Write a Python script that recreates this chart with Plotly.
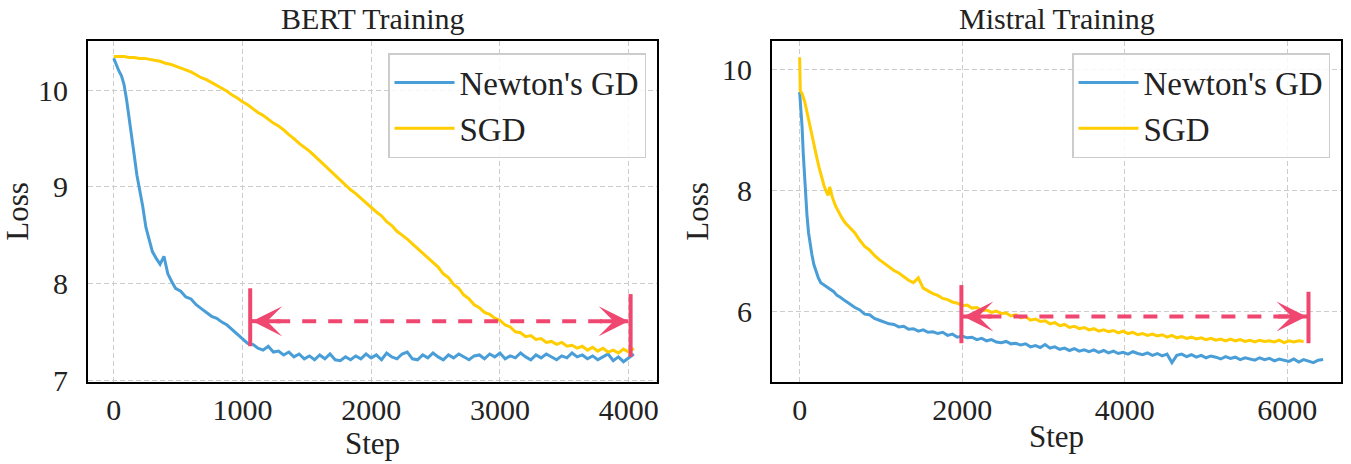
import plotly.graph_objects as go
from plotly.subplots import make_subplots

# ---------------- data ----------------
# BERT, Newton's GD: irregular early steps, then every 40 steps from 520
bert_newton_early_steps = [0, 20, 40, 60, 80, 100, 120, 140, 160, 180, 200, 225, 250, 275,
                           300, 330, 360, 390, 420, 450, 480]
bert_newton_early_loss = [10.33, 10.26, 10.20, 10.15, 10.06, 9.90, 9.72, 9.52, 9.32, 9.12,
                          8.98, 8.80, 8.58, 8.45, 8.33, 8.26, 8.20, 8.28, 8.10, 8.02, 7.95]
bert_newton_late_start, bert_newton_late_every = 520, 40
bert_newton_late_loss = [
    7.92, 7.86, 7.84, 7.78, 7.74, 7.70, 7.66, 7.64, 7.60, 7.57, 7.52, 7.48, 7.43, 7.38, 7.37,
    7.33, 7.31, 7.35, 7.29, 7.30, 7.26, 7.29, 7.24, 7.27, 7.22, 7.25, 7.21, 7.26, 7.22, 7.27,
    7.21, 7.20, 7.24, 7.21, 7.25, 7.22, 7.27, 7.23, 7.26, 7.21, 7.28, 7.24, 7.22, 7.27, 7.29,
    7.22, 7.21, 7.26, 7.23, 7.28, 7.24, 7.21, 7.26, 7.23, 7.27, 7.24, 7.21, 7.25, 7.26, 7.22,
    7.27, 7.24, 7.28, 7.22, 7.25, 7.23, 7.28, 7.24, 7.21, 7.26, 7.23, 7.27, 7.24, 7.21, 7.25,
    7.23, 7.28, 7.24, 7.26, 7.22, 7.25, 7.21, 7.24, 7.27, 7.20, 7.24, 7.19, 7.23, 7.27]

# BERT, SGD: every 40 steps from 0
bert_sgd_every = 40
bert_sgd_loss = [
    10.35, 10.35, 10.35, 10.34, 10.34, 10.33, 10.33, 10.32, 10.31, 10.30, 10.28, 10.27, 10.25,
    10.23, 10.21, 10.19, 10.16, 10.13, 10.11, 10.08, 10.05, 10.02, 9.99, 9.95, 9.92, 9.88,
    9.85, 9.81, 9.77, 9.74, 9.70, 9.66, 9.63, 9.59, 9.54, 9.50, 9.45, 9.41, 9.37, 9.32, 9.27,
    9.22, 9.17, 9.11, 9.07, 9.02, 8.97, 8.93, 8.88, 8.83, 8.79, 8.74, 8.70, 8.64, 8.60, 8.54,
    8.50, 8.46, 8.41, 8.36, 8.32, 8.26, 8.21, 8.17, 8.10, 8.06, 7.99, 7.95, 7.88, 7.84, 7.78,
    7.75, 7.70, 7.68, 7.64, 7.62, 7.57, 7.55, 7.50, 7.49, 7.45, 7.46, 7.42, 7.43, 7.39, 7.40,
    7.37, 7.39, 7.35, 7.36, 7.33, 7.35, 7.31, 7.34, 7.30, 7.33, 7.29, 7.31, 7.28, 7.32, 7.29,
    7.33]

# Mistral, Newton's GD
mistral_newton_early_steps = [0, 15, 30, 45, 60, 75, 90, 110, 130, 150, 175, 200, 230, 260,
                              300, 340, 380, 420, 460, 500]
mistral_newton_early_loss = [9.63, 9.35, 9.05, 8.60, 8.25, 7.96, 7.60, 7.30, 7.10, 6.95, 6.78,
                             6.66, 6.56, 6.48, 6.44, 6.40, 6.36, 6.33, 6.27, 6.24]
mistral_newton_late_start, mistral_newton_late_every = 560, 60
mistral_newton_late_loss = [
    6.18, 6.12, 6.07, 6.03, 5.96, 5.95, 5.89, 5.86, 5.83, 5.80, 5.79, 5.75, 5.76, 5.71, 5.72,
    5.68, 5.70, 5.66, 5.67, 5.64, 5.66, 5.61, 5.63, 5.58, 5.60, 5.57, 5.58, 5.54, 5.56, 5.52,
    5.54, 5.50, 5.49, 5.51, 5.47, 5.48, 5.45, 5.47, 5.42, 5.44, 5.41, 5.46, 5.40, 5.42, 5.38,
    5.40, 5.36, 5.39, 5.35, 5.37, 5.34, 5.37, 5.33, 5.36, 5.32, 5.35, 5.31, 5.33, 5.30, 5.34,
    5.31, 5.29, 5.32, 5.28, 5.31, 5.27, 5.30, 5.16, 5.28, 5.30, 5.26, 5.29, 5.25, 5.28, 5.24,
    5.27, 5.25, 5.22, 5.26, 5.23, 5.25, 5.21, 5.24, 5.22, 5.20, 5.24, 5.21, 5.23, 5.19, 5.22,
    5.20, 5.18, 5.22, 5.17, 5.21, 5.19, 5.16, 5.20, 5.21]

# Mistral, SGD
mistral_sgd_early_steps = [0, 8, 30, 60, 90, 120, 150, 180, 210, 240, 270, 300, 330, 350, 370,
                           400, 440, 480, 520]
mistral_sgd_early_loss = [10.20, 9.65, 9.60, 9.48, 9.30, 9.10, 8.90, 8.72, 8.55, 8.38, 8.22,
                          8.08, 7.98, 7.92, 8.06, 7.90, 7.75, 7.64, 7.55]
mistral_sgd_late_start, mistral_sgd_late_every = 560, 60
mistral_sgd_late_loss = [
    7.47, 7.38, 7.30, 7.18, 7.08, 7.02, 6.93, 6.86, 6.80, 6.74, 6.68, 6.64, 6.58, 6.52, 6.48,
    6.56, 6.39, 6.34, 6.30, 6.27, 6.22, 6.20, 6.16, 6.14, 6.10, 6.11, 6.06, 6.07, 6.02, 6.03,
    5.99, 6.01, 5.97, 5.98, 5.93, 5.95, 5.90, 5.92, 5.86, 5.88, 5.84, 5.85, 5.80, 5.82, 5.77,
    5.79, 5.74, 5.76, 5.72, 5.74, 5.70, 5.72, 5.68, 5.70, 5.67, 5.69, 5.65, 5.68, 5.64, 5.66,
    5.62, 5.64, 5.61, 5.63, 5.60, 5.62, 5.58, 5.61, 5.57, 5.59, 5.56, 5.58, 5.55, 5.57, 5.54,
    5.56, 5.53, 5.55, 5.52, 5.55, 5.52, 5.54, 5.51, 5.53, 5.50, 5.53, 5.51, 5.52, 5.50, 5.53,
    5.49, 5.52, 5.50, 5.52, 5.51]

# speed-up spans (step range, loss level of dashed arrow, vertical bar extents)
bert_span_steps = [1060, 4015]
bert_span_level = 7.61
bert_span_bars = [[7.35, 7.95], [7.24, 7.89]]
mistral_span_steps = [1990, 6260]
mistral_span_level = 5.92
mistral_span_bars = [[5.48, 6.44], [5.48, 6.33]]

titles = ["BERT Training", "Mistral Training"]
series_names = ["Newton's GD", "SGD"]
bert_xticks = [0, 1000, 2000, 3000, 4000]
bert_yticks = [7, 8, 9, 10]
mistral_xticks = [0, 2000, 4000, 6000]
mistral_yticks = [6, 8, 10]

# ---------------- styling ----------------
BLUE = "#4A9ED8"
YELLOW = "#FFCD00"
RED = "#EF476F"
FONT = "Liberation Serif, Times New Roman, serif"
TXT = "#222222"
LW = 3


def regular(start, every, values):
    return [start + every * i for i in range(len(values))]


bert_newton_steps = bert_newton_early_steps + regular(bert_newton_late_start, bert_newton_late_every, bert_newton_late_loss)
bert_newton_loss = bert_newton_early_loss + bert_newton_late_loss
bert_sgd_steps = regular(0, bert_sgd_every, bert_sgd_loss)
mis_newton_steps = mistral_newton_early_steps + regular(mistral_newton_late_start, mistral_newton_late_every, mistral_newton_late_loss)
mis_newton_loss = mistral_newton_early_loss + mistral_newton_late_loss
mis_sgd_steps = mistral_sgd_early_steps + regular(mistral_sgd_late_start, mistral_sgd_late_every, mistral_sgd_late_loss)
mis_sgd_loss = mistral_sgd_early_loss + mistral_sgd_late_loss

fig = make_subplots(rows=1, cols=2)

fig.add_trace(go.Scatter(x=bert_newton_steps, y=bert_newton_loss, mode="lines", name=series_names[0],
                         line=dict(color=BLUE, width=LW), legend="legend", legendgroup="a"), 1, 1)
fig.add_trace(go.Scatter(x=bert_sgd_steps, y=bert_sgd_loss, mode="lines", name=series_names[1],
                         line=dict(color=YELLOW, width=LW), legend="legend", legendgroup="b"), 1, 1)
fig.add_trace(go.Scatter(x=mis_newton_steps, y=mis_newton_loss, mode="lines", name=series_names[0],
                         line=dict(color=BLUE, width=LW), legend="legend2", legendgroup="c"), 1, 2)
fig.add_trace(go.Scatter(x=mis_sgd_steps, y=mis_sgd_loss, mode="lines", name=series_names[1],
                         line=dict(color=YELLOW, width=LW), legend="legend2", legendgroup="d"), 1, 2)

H = 464
W = 1351
dom_y = [1 - 382 / H, 1 - 41 / H]
dom_x1 = [88 / W, 657 / W]
dom_x2 = [772 / W, 1341 / W]

axis_common = dict(showline=True, mirror=True, linecolor="black", linewidth=2,
                   showgrid=True, gridcolor="#CCCCCC", gridwidth=1, griddash="5px,3px",
                   zeroline=False, ticks="", automargin=False,
                   tickfont=dict(family=FONT, size=30, color=TXT),
                   title_font=dict(family=FONT, size=31, color=TXT))

legend_common = dict(xanchor="right", yanchor="top", y=1 - 53 / H,
                     bgcolor="rgba(255,255,255,0.85)", bordercolor="#CCCCCC", borderwidth=1.5,
                     font=dict(family=FONT, size=33, color=TXT), tracegroupgap=0, itemwidth=60)

fig.update_layout(
    width=W, height=H, margin=dict(l=0, r=0, t=0, b=0, autoexpand=False),
    paper_bgcolor="white", plot_bgcolor="white",
    font=dict(family=FONT, color=TXT),
    xaxis=dict(domain=dom_x1, range=[-200, 4220], tickvals=bert_xticks, ticklabelstandoff=0,
               title=dict(text="Step", standoff=0), **axis_common),
    yaxis=dict(domain=dom_y, range=[6.98, 10.51], tickvals=bert_yticks, ticklabelstandoff=12,
               title=dict(text="Loss", standoff=8), **axis_common),
    xaxis2=dict(domain=dom_x2, range=[-340, 6660], tickvals=mistral_xticks, ticklabelstandoff=0,
                title=dict(text="Step", standoff=0), **axis_common),
    yaxis2=dict(domain=dom_y, range=[4.84, 10.47], tickvals=mistral_yticks, ticklabelstandoff=12,
                title=dict(text="Loss", standoff=4), **axis_common),
    legend=dict(x=646 / W, **legend_common),
    legend2=dict(x=1330 / W, **legend_common),
)

# subplot titles
for dom, t in [(dom_x1, titles[0]), (dom_x2, titles[1])]:
    fig.add_annotation(text=t, x=(dom[0] + dom[1]) / 2, y=dom_y[1], xref="paper", yref="paper",
                       xanchor="center", yanchor="bottom", yshift=4, showarrow=False,
                       font=dict(family=FONT, size=30, color=TXT))

# speed-up arrows
for xr, yr, steps, level, bars in [("x", "y", bert_span_steps, bert_span_level, bert_span_bars),
                                   ("x2", "y2", mistral_span_steps, mistral_span_level, mistral_span_bars)]:
    fig.add_shape(type="line", xref=xr, yref=yr, x0=steps[0], x1=steps[1], y0=level, y1=level,
                  line=dict(color=RED, width=4, dash="14px,12px"))
    for s, b in zip(steps, bars):
        fig.add_shape(type="line", xref=xr, yref=yr, x0=s, x1=s, y0=b[0], y1=b[1],
                      line=dict(color=RED, width=4))
    for s, off in [(steps[0], 32), (steps[1], -32)]:
        fig.add_annotation(x=s, y=level, xref=xr, yref=yr, text="", showarrow=True,
                           ax=off, ay=0, arrowhead=3, arrowsize=1.25, arrowwidth=4,
                           arrowcolor=RED, standoff=2)

fig.write_html("out.html", config={"displayModeBar": False},
               post_script="document.body.style.margin='0';document.body.style.padding='0';"
                           "document.body.style.overflow='hidden';")
